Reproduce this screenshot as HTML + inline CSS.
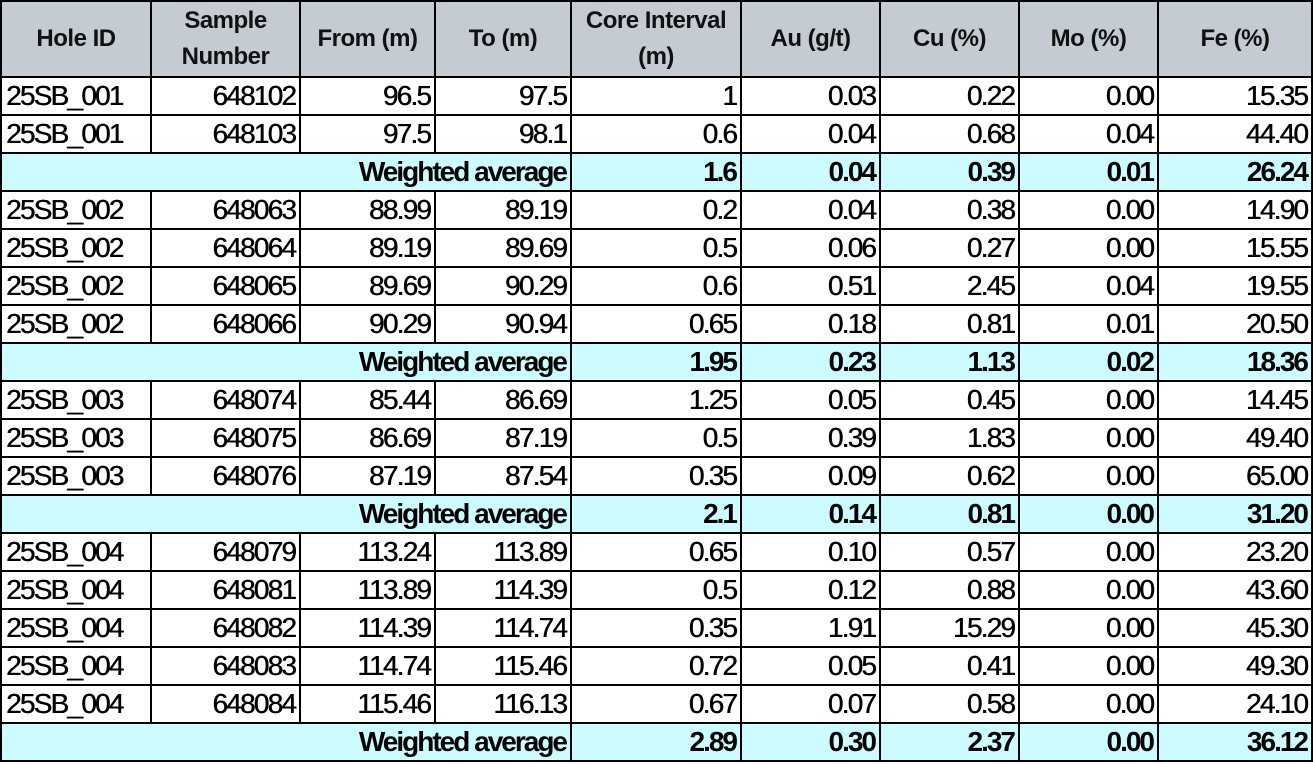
<!DOCTYPE html>
<html><head><meta charset="utf-8"><style>
html,body{margin:0;padding:0;background:#fff;width:1313px;height:764px;overflow:hidden}
table{border-collapse:collapse;table-layout:fixed;position:absolute;left:0;top:0;font-family:"Liberation Sans",Arial,sans-serif;color:#000}
td,th{border:2px solid #000;padding:0 4px 0 4px;white-space:nowrap;overflow:hidden;box-sizing:border-box}
th{background:#c4cbd3;font-size:24px;font-weight:bold;text-align:center;height:76px;line-height:36px;color:#111;letter-spacing:-0.5px}
td{height:38px;font-size:28px;letter-spacing:-1.8px;text-align:right;line-height:34px;text-shadow:0.5px 0 0 #000}
td.l{text-align:left}
tr.w td{background:#ccfcff;font-weight:bold;text-shadow:none;letter-spacing:-2px}
</style></head><body>
<table>
<colgroup><col style="width:150px"><col style="width:149px"><col style="width:135px"><col style="width:136px"><col style="width:170px"><col style="width:139px"><col style="width:139px"><col style="width:139px"><col style="width:154px"></colgroup>
<tr><th>Hole ID</th><th>Sample<br>Number</th><th>From (m)</th><th>To (m)</th><th>Core Interval<br>(m)</th><th>Au (g/t)</th><th>Cu (%)</th><th>Mo (%)</th><th>Fe (%)</th></tr>
<tr><td class="l">25SB_001</td><td>648102</td><td>96.5</td><td>97.5</td><td>1</td><td>0.03</td><td>0.22</td><td>0.00</td><td>15.35</td></tr>
<tr><td class="l">25SB_001</td><td>648103</td><td>97.5</td><td>98.1</td><td>0.6</td><td>0.04</td><td>0.68</td><td>0.04</td><td>44.40</td></tr>
<tr class="w"><td colspan="4">Weighted average</td><td>1.6</td><td>0.04</td><td>0.39</td><td>0.01</td><td>26.24</td></tr>
<tr><td class="l">25SB_002</td><td>648063</td><td>88.99</td><td>89.19</td><td>0.2</td><td>0.04</td><td>0.38</td><td>0.00</td><td>14.90</td></tr>
<tr><td class="l">25SB_002</td><td>648064</td><td>89.19</td><td>89.69</td><td>0.5</td><td>0.06</td><td>0.27</td><td>0.00</td><td>15.55</td></tr>
<tr><td class="l">25SB_002</td><td>648065</td><td>89.69</td><td>90.29</td><td>0.6</td><td>0.51</td><td>2.45</td><td>0.04</td><td>19.55</td></tr>
<tr><td class="l">25SB_002</td><td>648066</td><td>90.29</td><td>90.94</td><td>0.65</td><td>0.18</td><td>0.81</td><td>0.01</td><td>20.50</td></tr>
<tr class="w"><td colspan="4">Weighted average</td><td>1.95</td><td>0.23</td><td>1.13</td><td>0.02</td><td>18.36</td></tr>
<tr><td class="l">25SB_003</td><td>648074</td><td>85.44</td><td>86.69</td><td>1.25</td><td>0.05</td><td>0.45</td><td>0.00</td><td>14.45</td></tr>
<tr><td class="l">25SB_003</td><td>648075</td><td>86.69</td><td>87.19</td><td>0.5</td><td>0.39</td><td>1.83</td><td>0.00</td><td>49.40</td></tr>
<tr><td class="l">25SB_003</td><td>648076</td><td>87.19</td><td>87.54</td><td>0.35</td><td>0.09</td><td>0.62</td><td>0.00</td><td>65.00</td></tr>
<tr class="w"><td colspan="4">Weighted average</td><td>2.1</td><td>0.14</td><td>0.81</td><td>0.00</td><td>31.20</td></tr>
<tr><td class="l">25SB_004</td><td>648079</td><td>113.24</td><td>113.89</td><td>0.65</td><td>0.10</td><td>0.57</td><td>0.00</td><td>23.20</td></tr>
<tr><td class="l">25SB_004</td><td>648081</td><td>113.89</td><td>114.39</td><td>0.5</td><td>0.12</td><td>0.88</td><td>0.00</td><td>43.60</td></tr>
<tr><td class="l">25SB_004</td><td>648082</td><td>114.39</td><td>114.74</td><td>0.35</td><td>1.91</td><td>15.29</td><td>0.00</td><td>45.30</td></tr>
<tr><td class="l">25SB_004</td><td>648083</td><td>114.74</td><td>115.46</td><td>0.72</td><td>0.05</td><td>0.41</td><td>0.00</td><td>49.30</td></tr>
<tr><td class="l">25SB_004</td><td>648084</td><td>115.46</td><td>116.13</td><td>0.67</td><td>0.07</td><td>0.58</td><td>0.00</td><td>24.10</td></tr>
<tr class="w"><td colspan="4">Weighted average</td><td>2.89</td><td>0.30</td><td>2.37</td><td>0.00</td><td>36.12</td></tr>
</table>
</body></html>
